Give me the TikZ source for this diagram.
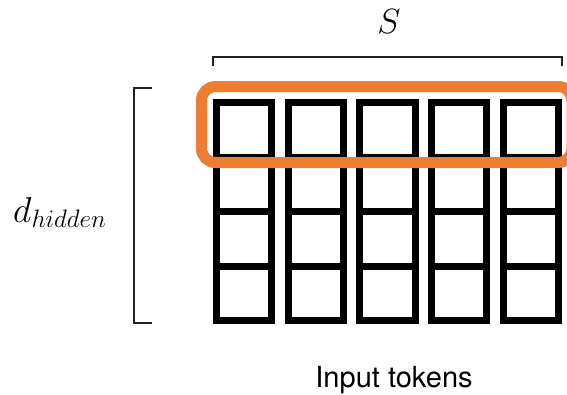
\documentclass[tikz,border=0pt]{standalone}
\usepackage{fix-cm}
\usepackage{fontspec}
\newfontfamily\labelfont{TeX Gyre Heros}
\definecolor{hlorange}{HTML}{ED7D31}
\definecolor{bracegray}{HTML}{222222}
\begin{document}
\begin{tikzpicture}[x=1pt,y=-1pt,
  cell/.style={draw=black, line width=7pt, minimum width=55.3pt, minimum height=54.5pt, inner sep=0pt, outer sep=0pt},
  bracketline/.style={draw=bracegray, line width=1.1pt},
  highlight/.style={draw=hlorange, line width=11pt, rounded corners=14pt}]
\useasboundingbox (0,0) rectangle (567,394);

% grid of token vectors: 5 columns, 4 hidden units each
\foreach \c in {0,...,4}{
  \foreach \r in {0,...,3}{
    \node[cell] (c\c r\r) at ({244 + 71.75*\c}, {129.75 + 54.5*\r}) {};
  }
}

% highlighted first row
\draw[highlight] (201.5,86.5) rectangle (572,162.5);

% bracket over the sequence
\coordinate (sl) at (213,66);
\coordinate (sr) at (562,66);
\draw[bracketline] (sl) -- ++(0,-9) -| (sr);
\node[font=\fontsize{35}{40}\selectfont] (slabel) at (389,22) {$S$};

% bracket beside the hidden dimension
\coordinate (dt) at (152,88);
\coordinate (db) at (152,323);
\draw[bracketline] (dt) -- ++(-18,0) |- (db);
\node[font=\fontsize{36}{42}\selectfont, anchor=base west, inner sep=0pt] (dlabel) at (13,222) {$d_{hidden}$};

% caption
\node[font=\labelfont\fontsize{29}{34}\selectfont, anchor=base, inner sep=0pt] (caption) at (394,387) {Input tokens};
\end{tikzpicture}
\end{document}
